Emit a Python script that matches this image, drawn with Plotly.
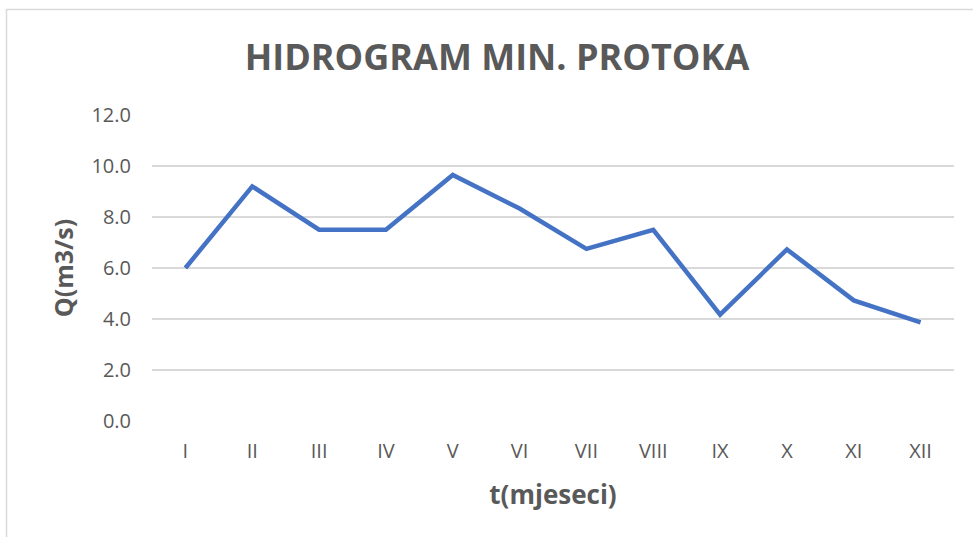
import plotly.graph_objects as go

# Monthly minimum discharge, Q in m3/s
months = ["I", "II", "III", "IV", "V", "VI", "VII", "VIII", "IX", "X", "XI", "XII"]
q_min = [6.0, 9.2, 7.5, 7.5, 9.65, 8.33, 6.75, 7.5, 4.17, 6.73, 4.73, 3.87]
y_ticks = [0, 2, 4, 6, 8, 10, 12]

W, H = 973, 537
L, R, T, B = 152, 19, 115, 116
plot_w = W - L - R
plot_h = H - T - B

FONT = "Open Sans"
GREY = "#595959"

fig = go.Figure()
fig.add_trace(go.Scatter(
    x=months, y=q_min, mode="lines",
    line=dict(color="#4472C4", width=4.5),
    hoverinfo="x+y", showlegend=False,
))

# Light frame around the chart area
fig.add_shape(
    type="rect", xref="paper", yref="paper",
    x0=(6.5 - L) / plot_w, x1=(990 - L) / plot_w,
    y0=(H - B - 560) / plot_h, y1=(H - B - 9.5) / plot_h,
    line=dict(color="#d9d9d9", width=1.5), fillcolor="rgba(0,0,0,0)",
    layer="below",
)

fig.update_layout(
    width=W, height=H,
    margin=dict(l=L, r=R, t=T, b=B, autoexpand=False),
    paper_bgcolor="white", plot_bgcolor="white",
    font=dict(family=FONT, color=GREY),
    title=dict(
        text="<b>HIDROGRAM MIN. PROTOKA</b>",
        font=dict(family=FONT, size=36, color=GREY),
        xref="container", x=497 / W, xanchor="center",
        yref="container", y=1 - 57 / H, yanchor="middle",
    ),
    xaxis=dict(
        type="category", range=[-0.5, 11.5],
        showgrid=False, zeroline=False, showline=False,
        tickfont=dict(family=FONT, size=20, color=GREY),
        ticklabelstandoff=16,
        title=dict(text="<b>t(mjeseci)</b>",
                   font=dict(family=FONT, size=26, color=GREY), standoff=22),
    ),
    yaxis=dict(
        range=[0, 12], tickvals=y_ticks, tickformat=".1f",
        showgrid=True, gridcolor="#d9d9d9", gridwidth=1.5,
        zeroline=False, showline=False,
        tickfont=dict(family=FONT, size=20, color=GREY),
        ticklabelstandoff=20,
        title=dict(text="<b>Q(m3/s)</b>",
                   font=dict(family=FONT, size=25, color=GREY), standoff=10),
    ),
)

fig.write_html("out.html")
